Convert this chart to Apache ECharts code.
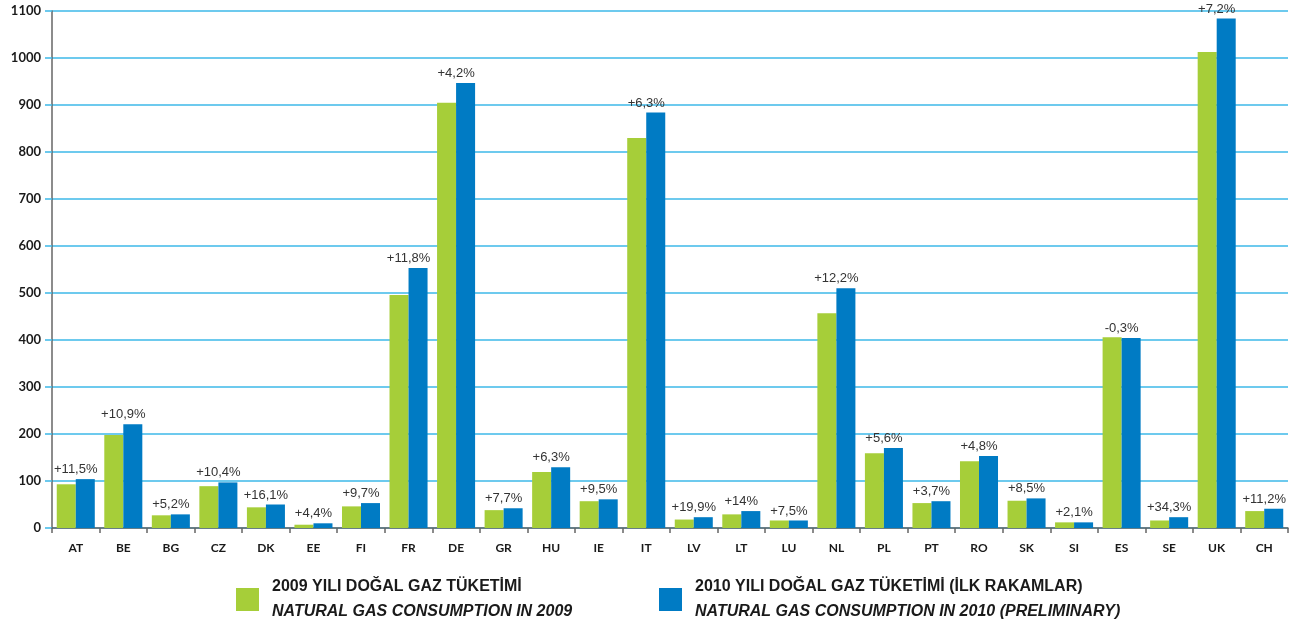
<!DOCTYPE html>
<html>
<head>
<meta charset="utf-8">
<script src="https://cdn.jsdelivr.net/npm/echarts@6/dist/echarts.min.js"></script>
<style>
html,body{margin:0;padding:0;background:#fff;}
#chart{width:1299px;height:628px;}
</style>
</head>
<body>
<div id="chart"></div>
<script>
var categories = ['AT','BE','BG','CZ','DK','EE','FI','FR','DE','GR','HU','IE','IT','LV','LT','LU','NL','PL','PT','RO','SK','SI','ES','SE','UK','CH'];
var values2009 = [93,198,27,89,44,7,46,496,905,38,119,57,830,18,29,16,457,159,53,142,58,12,406,16,1013,36];
var values2010 = [104,221,29,97,50,10,53,553,947,42,129,61,884,23,36,16,510,170,57,153,63,12,404,23,1084,41];
var changeLabels = ['+11,5%','+10,9%','+5,2%','+10,4%','+16,1%','+4,4%','+9,7%','+11,8%','+4,2%','+7,7%','+6,3%','+9,5%','+6,3%','+19,9%','+14%','+7,5%','+12,2%','+5,6%','+3,7%','+4,8%','+8,5%','+2,1%','-0,3%','+34,3%','+7,2%','+11,2%'];
var yTicks = {min:0, max:1100, interval:100};
var name2009 = '2009 YILI DOĞAL GAZ TÜKETİMİ';
var sub2009 = 'NATURAL GAS CONSUMPTION IN 2009';
var name2010 = '2010 YILI DOĞAL GAZ TÜKETİMİ (İLK RAKAMLAR)';
var sub2010 = 'NATURAL GAS CONSUMPTION IN 2010 (PRELIMINARY)';

var chart = echarts.init(document.getElementById('chart'));
var legendRich = {
  a:{fontFamily:'Liberation Sans Narrow, Arial Narrow, sans-serif', fontWeight:'bold', fontSize:16, color:'#1a1a1a', lineHeight:25},
  b:{fontFamily:'Liberation Sans Narrow, Arial Narrow, sans-serif', fontWeight:'bold', fontStyle:'italic', fontSize:16, color:'#1a1a1a', lineHeight:25}
};
function legendFmt(n){
  return n === name2009 ? '{a|' + name2009 + '}\n{b|' + sub2009 + '}' : '{a|' + name2010 + '}\n{b|' + sub2010 + '}';
}
chart.setOption({
  animation:false,
  grid:{left:52, right:11, top:11, bottom:100, containLabel:false},
  legend:[
    {data:[name2009], left:236, top:579, padding:0, orient:'horizontal', icon:'rect', itemWidth:23, itemHeight:23,
     selectedMode:false, formatter:legendFmt, textStyle:{rich:legendRich, padding:[0,0,0,8]}},
    {data:[name2010], left:659, top:579, padding:0, orient:'horizontal', icon:'rect', itemWidth:23, itemHeight:23,
     selectedMode:false, formatter:legendFmt, textStyle:{rich:legendRich, padding:[0,0,0,8]}}
  ],
  xAxis:{
    type:'category', data:categories,
    axisLine:{lineStyle:{color:'#666', width:1.5}},
    axisTick:{show:true, length:5, lineStyle:{color:'#666', width:1.5}},
    axisLabel:{color:'#1a1a1a', fontFamily:'Lato, sans-serif', fontWeight:'bold', fontSize:12, margin:14}
  },
  yAxis:{
    type:'value', min:yTicks.min, max:yTicks.max, interval:yTicks.interval,
    axisLine:{show:true, lineStyle:{color:'#666', width:1.5}},
    axisTick:{show:true, length:7, lineStyle:{color:'#3cb8e8', width:1.5}},
    axisLabel:{color:'#1a1a1a', fontFamily:'Lato, sans-serif', fontWeight:'bold', fontSize:13, margin:11,
      formatter:function(v){return String(v);}},
    splitLine:{lineStyle:{color:'#3cb8e8', width:1.5}}
  },
  series:[
    {name:name2009, type:'bar', data:values2009, barGap:'0%', barCategoryGap:'20%',
     itemStyle:{color:'#a6ce39'}},
    {name:name2010, type:'bar', data:values2010, barGap:'0%', barCategoryGap:'20%',
     itemStyle:{color:'#007bc4'},
     label:{show:true, position:'top', distance:3, offset:[-9.5,0],
       formatter:function(p){return changeLabels[p.dataIndex];},
       color:'#333', fontFamily:'Liberation Sans Narrow, Arial Narrow, sans-serif', fontSize:13}}
  ]
});
</script>
</body>
</html>
